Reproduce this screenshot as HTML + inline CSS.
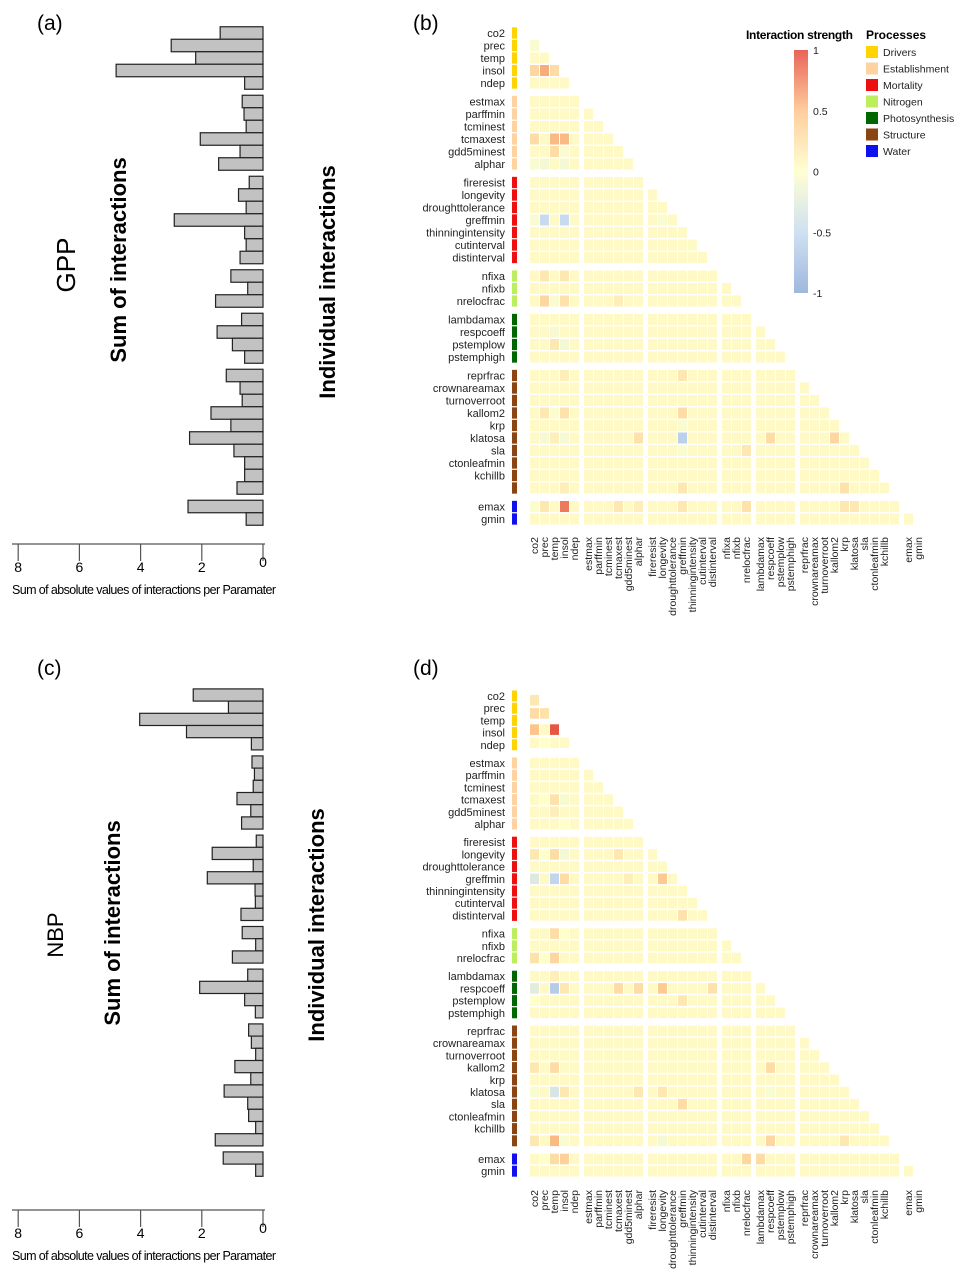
<!DOCTYPE html>
<html><head><meta charset="utf-8"><style>
html,body{margin:0;padding:0;background:#fff;}
svg{display:block;font-family:"Liberation Sans",sans-serif;}
</style></head><body>
<svg id="fig" width="963" height="1287" viewBox="0 0 963 1287" xmlns="http://www.w3.org/2000/svg">
<rect width="963" height="1287" fill="#fff"/>
<text x="37" y="30" font-size="21">(a)</text>
<text x="413" y="30" font-size="21">(b)</text>
<text x="37" y="675" font-size="21">(c)</text>
<text x="413" y="675" font-size="21">(d)</text>
<text transform="translate(75,265) rotate(-90)" text-anchor="middle" font-size="26">GPP</text>
<text transform="translate(126,260) rotate(-90)" text-anchor="middle" font-size="22" font-weight="bold">Sum of interactions</text>
<text transform="translate(335,282) rotate(-90)" text-anchor="middle" font-size="22" font-weight="bold">Individual interactions</text>
<text transform="translate(63,935) rotate(-90)" text-anchor="middle" font-size="22">NBP</text>
<text transform="translate(120,923) rotate(-90)" text-anchor="middle" font-size="22" font-weight="bold">Sum of interactions</text>
<text transform="translate(324,925) rotate(-90)" text-anchor="middle" font-size="22" font-weight="bold">Individual interactions</text>
<g id="layer"></g>
</svg>
<script>
// ---- data ----
const params = ["co2","prec","temp","insol","ndep","estmax","parffmin","tcminest","tcmaxest","gdd5minest","alphar","fireresist","longevity","droughttolerance","greffmin","thinningintensity","cutinterval","distinterval","nfixa","nfixb","nrelocfrac","lambdamax","respcoeff","pstemplow","pstemphigh","reprfrac","crownareamax","turnoverroot","kallom2","krp","klatosa","sla","ctonleafmin","kchillb","","emax","gmin"];
const groupSizes = [5,6,7,3,4,10,2];
const processNames = ["Drivers","Establishment","Mortality","Nitrogen","Photosynthesis","Structure","Water"];
const processColors = ["#ffd400","#ffd2a2","#ee1010","#bdee5e","#006600","#8b4513","#1010ee"];
const axisTicks = [8,6,4,2,0];
const gppSums = [1.4,3.0,2.2,4.8,0.6, 0.68,0.62,0.55,2.05,0.75,1.45, 0.45,0.8,0.55,2.9,0.6,0.55,0.75, 1.05,0.5,1.55, 0.7,1.5,1.0,0.6, 1.2,0.75,0.68,1.7,1.05,2.4,0.95,0.6,0.6,0.85, 2.45,0.55];
const nbpSums = [2.28,1.13,4.03,2.5,0.38, 0.36,0.28,0.32,0.85,0.4,0.7, 0.22,1.66,0.32,1.82,0.26,0.25,0.72, 0.68,0.24,1.0, 0.5,2.07,0.6,0.25, 0.47,0.38,0.24,0.92,0.4,1.27,0.5,0.47,0.24,1.56, 1.3,0.24];
const gppBaseline = 0.05;
const nbpBaseline = 0.05;
// [row, col, interaction]
const gppCells = [[1,0,-0.05],[3,0,0.35],[3,1,0.6],[3,2,0.3],[8,0,0.3],[8,2,0.55],[8,3,0.55],[9,2,0.3],[9,3,-0.05],[10,0,-0.05],[10,1,-0.1],[10,3,-0.1],[14,0,-0.05],[14,1,-0.5],[14,3,-0.5],[14,12,-0.05],[18,1,0.2],[18,3,0.2],[20,1,0.35],[20,2,-0.05],[20,3,0.25],[20,8,0.15],[22,2,-0.08],[23,2,0.2],[23,3,-0.1],[25,3,0.15],[25,14,0.2],[28,1,0.2],[28,2,-0.03],[28,3,0.25],[28,14,0.3],[29,14,-0.05],[30,1,-0.08],[30,2,0.15],[30,3,-0.08],[30,10,0.25],[30,14,-0.6],[30,22,0.3],[30,28,0.35],[31,14,-0.05],[31,20,0.2],[34,3,0.15],[34,14,0.2],[34,29,0.25],[35,0,-0.03],[35,1,0.2],[35,3,0.8],[35,8,0.2],[35,10,0.15],[35,14,0.2],[35,20,0.25],[35,29,0.2],[35,30,0.2]];
const nbpCells = [[1,0,0.2],[2,0,0.3],[2,1,0.25],[3,0,0.5],[3,2,0.95],[4,1,0.0],[8,1,0.0],[8,2,0.25],[8,3,-0.08],[9,2,0.15],[10,3,0.0],[12,0,0.2],[12,1,0.0],[12,2,0.3],[12,3,-0.1],[12,8,0.2],[14,0,-0.3],[14,2,-0.55],[14,3,0.3],[14,9,0.15],[14,12,0.45],[17,14,0.25],[18,2,0.3],[18,3,0.0],[20,0,0.25],[20,1,0.0],[20,2,0.35],[21,2,0.15],[22,0,-0.25],[22,2,-0.65],[22,3,0.2],[22,8,0.3],[22,10,0.3],[22,12,0.45],[22,17,0.25],[23,0,0.0],[23,14,0.2],[28,0,0.2],[28,2,0.3],[28,22,0.3],[30,0,-0.05],[30,2,-0.35],[30,3,0.2],[30,10,0.2],[30,12,0.2],[30,22,-0.05],[31,14,0.3],[34,0,0.2],[34,2,0.55],[34,3,-0.05],[34,12,-0.1],[34,22,0.35],[34,29,0.2],[35,1,0.0],[35,2,0.3],[35,3,0.4],[35,20,0.35],[35,21,0.3]];
const legendTicks = [1,0.5,0,-0.5,-1];

// ---- helpers ----
const NS = "http://www.w3.org/2000/svg";
const layer = document.getElementById("layer");
function mk(tag, attrs, parent){const e=document.createElementNS(NS,tag);for(const k in attrs)e.setAttribute(k,attrs[k]);(parent||layer).appendChild(e);return e;}
const groupOf = [];groupSizes.forEach((n,g)=>{for(let i=0;i<n;i++)groupOf.push(g);});
const stops = [[-1,[143,171,216]],[-0.5,[198,219,239]],[0,[255,255,204]],[0.5,[253,197,140]],[1,[228,72,60]]];
function colorOf(v){v=Math.max(-1,Math.min(1,v));for(let i=0;i<stops.length-1;i++){const a=stops[i],b=stops[i+1];if(v<=b[0]){const t=(v-a[0])/(b[0]-a[0]);const c=a[1].map((x,k)=>Math.round(x+(b[1][k]-x)*t));return `rgb(${c[0]},${c[1]},${c[2]})`;}}return "rgb(228,72,60)";}

function drawPanel(cfg){
  const rowY = i => cfg.y0 + i*cfg.pitch + groupOf[i]*6;
  const colX = c => 530 + c*10 + groupOf[c]*4;
  const barX = v => cfg.zeroX - v*cfg.scale;
  const bg = mk("g",{});
  
  
  cfg.sums.forEach((v,i)=>{
    const y=rowY(i)-cfg.pitch/2+cfg.barShift;
    const r=mk("rect",{x:barX(v),y:y,width:cfg.zeroX-barX(v),height:cfg.pitch,fill:"#c2c2c2",stroke:"#222","stroke-width":1.2},bg);
    
    
  });
  const ax = mk("g",{});
  
  
  mk("line",{x1:12,x2:barX(0)+2,y1:cfg.axisY,y2:cfg.axisY,stroke:"#555","stroke-width":1.2},ax);
  axisTicks.forEach(t=>{
    mk("line",{x1:barX(t),x2:barX(t),y1:cfg.axisY,y2:cfg.axisY+17,stroke:"#555","stroke-width":1.2},ax);
    const tl=mk("text",{x:barX(t),y:cfg.axisY+(t===0?23:28),"text-anchor":"middle","font-size":14},ax);
    tl.textContent=t;
    
    
  });
  const at=mk("text",{x:12,y:cfg.axisY+50,"font-size":12.5,"letter-spacing":"-0.6"},ax);
  at.textContent="Sum of absolute values of interactions per Paramater";
  
  
  const hg = mk("g",{});
  
  
  const vals = {};
  cfg.cells.forEach(c=>{vals[c[0]+"_"+c[1]]=c[2];});
  for(let i=1;i<params.length;i++){
    const yc=rowY(i)+(cfg.rowShift[i]||0);
    for(let j=0;j<i;j++){
      const k=i+"_"+j;const v=(k in vals)?vals[k]:cfg.baseline;
      const r=mk("rect",{x:colX(j),y:yc-cfg.cellH/2,width:9,height:cfg.cellH,fill:colorOf(v)},hg);
      
      
    }
  }
  params.forEach((p,i)=>{
    const y=rowY(i);
    const s=mk("rect",{x:512,y:y-cfg.pitch/2+0.6,width:5,height:cfg.pitch-1.2,fill:processColors[groupOf[i]]},hg);
    
    
    if(p){
      const t=mk("text",{x:505,y:y+4,"text-anchor":"end","font-size":11,fill:"#222"},hg);
      t.textContent=p;
      
      
      const ct=mk("text",{transform:`translate(${colX(i)+8},${cfg.colTop}) rotate(-90)`,"text-anchor":"end","font-size":10.5,fill:"#222"},hg);
      ct.textContent=p;
      
      
    }
  });
}
drawPanel({id:"gpp",sums:gppSums,cells:gppCells,baseline:gppBaseline,y0:33,pitch:12.5,cellH:11,zeroX:263,scale:30.6,axisY:544,colTop:537,barShift:0,rowShift:{}});
drawPanel({id:"nbp",sums:nbpSums,cells:nbpCells,baseline:nbpBaseline,y0:696,pitch:12.2,cellH:10.6,zeroX:263,scale:30.6,axisY:1210,colTop:1190,barShift:-1,rowShift:{1:-8,2:-7,3:-3,4:-2}});

const lg = mk("g",{});


const lt=mk("text",{x:746,y:39,"font-size":12,"font-weight":"bold","letter-spacing":"-0.3"},lg);
lt.textContent="Interaction strength";


const defs=mk("defs",{},lg);
const grad=mk("linearGradient",{id:"cb",x1:0,y1:0,x2:0,y2:1},defs);
legendTicks.forEach((v,i)=>{mk("stop",{offset:(i/(legendTicks.length-1)),"stop-color":colorOf(v)},grad);});
const cbTop=50,cbBot=293;
const cb=mk("rect",{x:794,y:cbTop,width:14,height:cbBot-cbTop,fill:"url(#cb)",opacity:0.85},lg);


legendTicks.forEach(v=>{
  const y=cbTop+(1-v)/2*(cbBot-cbTop);
  const t=mk("text",{x:813,y:y+4,"font-size":10.5,fill:"#222"},lg);
  t.textContent=v;
  
  
});
const pt=mk("text",{x:866,y:39,"font-size":12,"font-weight":"bold"},lg);
pt.textContent="Processes";


processNames.forEach((n,i)=>{
  const y=46+i*16.5;
  const s=mk("rect",{x:866,y:y,width:12,height:12,fill:processColors[i]},lg);
  
  
  const t=mk("text",{x:883,y:y+10,"font-size":10.5,fill:"#222"},lg);
  t.textContent=n;
  
  
});
</script>
</body></html>
